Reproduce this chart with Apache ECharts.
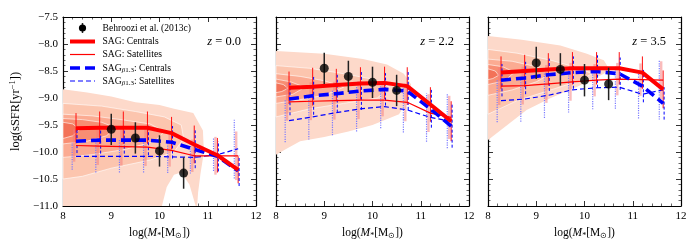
<!DOCTYPE html>
<html><head><meta charset="utf-8">
<script src="https://cdn.jsdelivr.net/npm/echarts@6/dist/echarts.min.js"></script>
<style>html,body{margin:0;padding:0;background:#fff}#c{width:697px;height:250px}</style>
</head><body><div id="c"></div>
<script>
// ---------- DATA ----------
const binX = [8.27, 8.76, 9.25, 9.75, 10.25, 10.72, 11.2, 11.63];
const obsX = [9.0, 9.5, 10.0, 10.5];
const panelLabels = ['0.0', '2.2', '3.5'];
const xTicks = [8, 9, 10, 11, 12];
const yTicks = [-11.0, -10.5, -10.0, -9.5, -9.0, -8.5, -8.0, -7.5];

// z = 0.0
const z0Obs = [-9.58, -9.74, -9.98, -10.39];
const z0ObsErr = [0.29, 0.29, 0.29, 0.29];
const z0SagCen = [-9.56, -9.55, -9.55, -9.55, -9.65, -9.86, -10.06, -10.33];
const z0SagCenErr = [0.28, 0.3, 0.3, 0.3, 0.3, 0.35, 0.32, 0.25];
const z0SagSat = [-9.88, -9.89, -9.9, -9.91, -9.97, -10.07, -10.07, -10.07];
const z0SagSatErr = [0.3, 0.35, 0.35, 0.35, 0.3, 0.3, 0.35, 0.45];
const z0BetaCen = [-9.8, -9.78, -9.78, -9.78, -9.82, -9.95, -10.08, -10.35];
const z0BetaCenErr = [0.22, 0.25, 0.25, 0.28, 0.3, 0.35, 0.28, 0.28];
const z0BetaSat = [-10.08, -10.08, -10.08, -10.08, -10.09, -10.1, -10.05, -9.94];
const z0BetaSatErr = [0.25, 0.3, 0.3, 0.3, 0.3, 0.3, 0.3, 0.55];
const z0Contours = [
  [[8,-8.84],[8.5,-8.9],[9,-8.97],[9.5,-9.08],[10,-9.13],[10.3,-9.2],[10.7,-9.28],[10.9,-9.6],[10.92,-10.0],[10.85,-10.4],[10.8,-10.75],[10.78,-11.0],[10.75,-11.0],[10.62,-10.6],[10.45,-10.38],[10.3,-10.42],[10.15,-10.65],[10.05,-11.0],[8,-11.0]],
  [[8,-9.1],[8.8,-9.15],[9.5,-9.25],[10.1,-9.35],[10.45,-9.5],[10.5,-9.75],[10.3,-10.0],[9.8,-10.15],[9.0,-10.3],[8.4,-10.45],[8,-10.5]],
  [[8,-9.3],[8.6,-9.33],[9.2,-9.4],[9.8,-9.48],[10.1,-9.62],[9.9,-9.8],[9.3,-9.95],[8.6,-10.05],[8,-10.1]],
  [[8,-9.38],[8.4,-9.4],[8.8,-9.45],[9.1,-9.55],[8.9,-9.7],[8.5,-9.8],[8,-9.85]],
  [[8,-9.45],[8.2,-9.48],[8.35,-9.58],[8.2,-9.7],[8,-9.75]]
];

// z = 2.2
const z2Obs = [-8.45, -8.6, -8.71, -8.86];
const z2ObsErr = [0.29, 0.29, 0.29, 0.29];
const z2SagCen = [-8.81, -8.79, -8.76, -8.73, -8.72, -8.78, -9.12, -9.43];
const z2SagCenErr = [0.3, 0.35, 0.3, 0.3, 0.3, 0.35, 0.32, 0.37];
const z2SagSat = [-9.07, -9.06, -9.05, -9.04, -9.04, -9.08, -9.28, -9.36];
const z2SagSatErr = [0.35, 0.35, 0.35, 0.35, 0.3, 0.35, 0.35, 0.4];
const z2BetaCen = [-9.02, -8.96, -8.92, -8.87, -8.84, -8.87, -9.2, -9.52];
const z2BetaCenErr = [0.3, 0.35, 0.35, 0.35, 0.3, 0.35, 0.35, 0.4];
const z2BetaSat = [-9.42, -9.35, -9.27, -9.2, -9.16, -9.22, -9.36, -9.43];
const z2BetaSatErr = [0.4, 0.42, 0.42, 0.42, 0.4, 0.42, 0.45, 0.5];
const z2Contours = [
  [[8,-8.13],[9,-8.18],[9.8,-8.28],[10.3,-8.38],[10.65,-8.55],[10.8,-8.75],[10.75,-9.0],[10.55,-9.3],[10.0,-9.5],[9.5,-9.62],[9.0,-9.72],[8.5,-9.8],[8.2,-9.95],[8,-10.05]],
  [[8,-8.4],[8.7,-8.45],[9.4,-8.55],[10,-8.65],[10.35,-8.8],[10.1,-9.0],[9.4,-9.1],[8.7,-9.2],[8,-9.35]],
  [[8,-8.55],[8.5,-8.6],[9.0,-8.68],[9.4,-8.8],[9.0,-8.95],[8.5,-9.03],[8,-9.1]],
  [[8,-8.65],[8.3,-8.7],[8.6,-8.8],[8.35,-8.93],[8,-8.98]],
  [[8,-8.72],[8.15,-8.75],[8.25,-8.82],[8.12,-8.88],[8,-8.9]]
];

// z = 3.5
const z3Obs = [-8.35, -8.47, -8.67, -8.74];
const z3ObsErr = [0.3, 0.3, 0.3, 0.3];
const z3SagCen = [-8.53, -8.5, -8.47, -8.45, -8.45, -8.45, -8.53, -8.84];
const z3SagCenErr = [0.3, 0.3, 0.3, 0.3, 0.3, 0.3, 0.3, 0.35];
const z3SagSat = [-8.78, -8.77, -8.74, -8.7, -8.67, -8.65, -8.66, -8.67];
const z3SagSatErr = [0.35, 0.35, 0.35, 0.35, 0.3, 0.3, 0.3, 0.35];
const z3BetaCen = [-8.67, -8.63, -8.57, -8.53, -8.51, -8.55, -8.78, -9.1];
const z3BetaCenErr = [0.3, 0.3, 0.3, 0.3, 0.3, 0.3, 0.3, 0.3];
const z3BetaSat = [-9.05, -9.02, -8.95, -8.85, -8.81, -8.8, -8.93, -8.85];
const z3BetaSatErr = [0.4, 0.42, 0.42, 0.42, 0.4, 0.4, 0.45, 0.55];
const z3Contours = [
  [[8,-7.85],[8.7,-7.92],[9.5,-8.03],[10.05,-8.18],[10.4,-8.3],[10.5,-8.45],[10.4,-8.55],[9.85,-8.79],[9.3,-9.0],[8.8,-9.22],[8.4,-9.5],[8,-9.78]],
  [[8,-8.1],[8.6,-8.17],[9.3,-8.3],[9.9,-8.45],[10.15,-8.55],[9.9,-8.68],[9.3,-8.85],[8.6,-9.05],[8,-9.3]],
  [[8,-8.28],[8.5,-8.32],[9.0,-8.42],[9.3,-8.55],[9.0,-8.7],[8.5,-8.85],[8,-8.95]],
  [[8,-8.38],[8.3,-8.42],[8.55,-8.52],[8.35,-8.68],[8,-8.75]],
  [[8,-8.46],[8.15,-8.5],[8.22,-8.58],[8.1,-8.64],[8,-8.66]]
];

const seriesNames = ['Behroozi et al. (2013c)', 'SAG: Centrals', 'SAG: Satellites', 'SAGβ1.3: Centrals', 'SAGβ1.3: Satellites'];

// ---------- BUILD ----------
const panels = [
  {obs: z0Obs, obsErr: z0ObsErr, cen: z0SagCen, cenE: z0SagCenErr, sat: z0SagSat, satE: z0SagSatErr, bcen: z0BetaCen, bcenE: z0BetaCenErr, bsat: z0BetaSat, bsatE: z0BetaSatErr, cont: z0Contours},
  {obs: z2Obs, obsErr: z2ObsErr, cen: z2SagCen, cenE: z2SagCenErr, sat: z2SagSat, satE: z2SagSatErr, bcen: z2BetaCen, bcenE: z2BetaCenErr, bsat: z2BetaSat, bsatE: z2BetaSatErr, cont: z2Contours},
  {obs: z3Obs, obsErr: z3ObsErr, cen: z3SagCen, cenE: z3SagCenErr, sat: z3SagSat, satE: z3SagSatErr, bcen: z3BetaCen, bcenE: z3BetaCenErr, bsat: z3BetaSat, bsatE: z3BetaSatErr, cont: z3Contours}
];

const SERIF = 'Liberation Serif';
const levelColors = ['#fdd9ca', '#fcc5ae', '#fbab92', '#f88e73', '#f37258'];
const gridLefts = [63, 276, 488];
const gridW = 193, gridTop = 17, gridH = 189;

const fmtNum = v => (v < 0 ? '\u2212' : '') + Math.abs(v).toFixed(1);

const grids = [], xAxes = [], yAxes = [], series = [], graphics = [];

function errBarSeries(i, xs, vals, errs, off, style, z) {
  return {
    type: 'custom', xAxisIndex: 2 * i, yAxisIndex: 2 * i, silent: true, z: z,
    data: xs.map((x, k) => [x + off, vals[k] - errs[k], vals[k] + errs[k]]),
    encode: {x: 0, y: [1, 2]},
    renderItem: (params, api) => {
      const p1 = api.coord([api.value(0), api.value(1)]);
      const p2 = api.coord([api.value(0), api.value(2)]);
      return {type: 'line', shape: {x1: p1[0], y1: p1[1], x2: p2[0], y2: p2[1]}, style: Object.assign({fill: null}, style)};
    }
  };
}

const lineStyles = {
  cen: {color: '#ff0000', width: 4, type: 'solid'},
  sat: {color: '#ff0000', width: 1.2, type: 'solid'},
  bcen: {color: '#0000ff', width: 3.6, type: [10, 5]},
  bsat: {color: '#0000ff', width: 1.2, type: [5, 3]}
};

panels.forEach((P, i) => {
  grids.push({left: gridLefts[i], top: gridTop, width: gridW, height: gridH, containLabel: false});
  const tickCommon = {inside: true, length: 5, lineStyle: {color: '#000', width: 0.8}};
  const minorCommon = {show: true, length: 2.5, lineStyle: {color: '#000', width: 0.6}};
  const lineCommon = {show: true, lineStyle: {color: '#000', width: 1.2}};
  xAxes.push({
    gridIndex: i, type: 'value', min: 8, max: 12, interval: 1, position: 'bottom',
    axisLine: lineCommon, axisTick: tickCommon, minorTick: Object.assign({splitNumber: 5}, minorCommon),
    splitLine: {show: false}, minorSplitLine: {show: false},
    axisLabel: {fontFamily: SERIF, fontSize: 11, color: '#000', margin: 5, formatter: v => xTicks.includes(v) ? String(v) : ''},
    name: '{n|log(}{it|M}{sub|*}{n|[M}{sub|\u2299}{n|])}', nameLocation: 'middle', nameGap: 19,
    nameTextStyle: {fontFamily: SERIF, rich: {
      n: {fontFamily: SERIF, fontSize: 11.5, color: '#000'},
      it: {fontFamily: SERIF, fontSize: 11.5, fontStyle: 'italic', color: '#000'},
      sub: {fontFamily: SERIF, fontSize: 8, color: '#000', padding: [6, 0, 0, 0]}
    }}
  });
  xAxes.push({
    gridIndex: i, type: 'value', min: 8, max: 12, interval: 1, position: 'top',
    axisLine: lineCommon, axisTick: tickCommon, minorTick: Object.assign({splitNumber: 5}, minorCommon),
    splitLine: {show: false}, axisLabel: {show: false}
  });
  yAxes.push({
    gridIndex: i, type: 'value', min: -11, max: -7.5, interval: 0.5, position: 'left',
    axisLine: lineCommon, axisTick: tickCommon, minorTick: Object.assign({splitNumber: 5}, minorCommon),
    splitLine: {show: false},
    axisLabel: {show: i === 0, fontFamily: SERIF, fontSize: 11, color: '#000', margin: 5,
      formatter: v => yTicks.some(t => Math.abs(t - v) < 1e-6) ? fmtNum(v) : ''},
    name: i === 0 ? '{n|log(sSFR[yr}{sup|\u22121}{n|])}' : '', nameLocation: 'middle', nameGap: 40, nameRotate: 90,
    nameTextStyle: {fontFamily: SERIF, rich: {
      n: {fontFamily: SERIF, fontSize: 12.5, color: '#000'},
      sup: {fontFamily: SERIF, fontSize: 8.5, color: '#000', padding: [0, 0, 6, 0]}
    }}
  });
  yAxes.push({
    gridIndex: i, type: 'value', min: -11, max: -7.5, interval: 0.5, position: 'right',
    axisLine: lineCommon, axisTick: tickCommon, minorTick: Object.assign({splitNumber: 5}, minorCommon),
    splitLine: {show: false}, axisLabel: {show: false}
  });

  // contours
  series.push({
    type: 'custom', xAxisIndex: 2 * i, yAxisIndex: 2 * i, silent: true, z: 1,
    data: P.cont.map((c, k) => [9, -9, k]), encode: {x: 0, y: 1},
    renderItem: (params, api) => {
      const k = params.dataIndex;
      const pts = P.cont[k].map(p => api.coord(p));
      return {type: 'polygon', shape: {points: pts},
        style: {fill: levelColors[k], stroke: k > 0 ? '#ffffff' : null, lineWidth: 0.6}};
    }
  });

  // model error bars
  series.push(errBarSeries(i, binX, P.bsat, P.bsatE, -0.08, {stroke: '#7a7aff', lineWidth: 1.2, lineDash: [1.2, 1.2]}, 3));
  series.push(errBarSeries(i, binX, P.sat, P.satE, -0.04, {stroke: 'rgba(245,120,120,0.5)', lineWidth: 2.4}, 3));
  series.push(errBarSeries(i, binX, P.cen, P.cenE, 0.0, {stroke: '#ff1010', lineWidth: 1}, 4));
  series.push(errBarSeries(i, binX, P.bcen, P.bcenE, 0.02, {stroke: '#0000ff', lineWidth: 1, lineDash: [3, 2]}, 4));

  const mkLine = (name, vals, st, z) => ({
    name: name, type: 'line', xAxisIndex: 2 * i, yAxisIndex: 2 * i, silent: true, z: z,
    data: binX.map((x, k) => [x, vals[k]]), symbol: 'none', showSymbol: false,
    lineStyle: {color: st.color, width: st.width, type: st.type}, itemStyle: {color: st.color}
  });
  series.push(mkLine(seriesNames[4], P.bsat, lineStyles.bsat, 5));
  series.push(mkLine(seriesNames[2], P.sat, lineStyles.sat, 5));
  series.push(mkLine(seriesNames[3], P.bcen, lineStyles.bcen, 6));
  series.push(mkLine(seriesNames[1], P.cen, lineStyles.cen, 7));

  // observations
  series.push(errBarSeries(i, obsX, P.obs, P.obsErr, 0, {stroke: '#222222', lineWidth: 1.5}, 8));
  series.push({
    name: seriesNames[0], type: 'scatter', xAxisIndex: 2 * i, yAxisIndex: 2 * i, silent: true, z: 9,
    data: obsX.map((x, k) => [x, P.obs[k]]), symbol: 'circle', symbolSize: 9,
    itemStyle: {color: '#000000'}
  });

  graphics.push({
    type: 'text', right: 697 - (gridLefts[i] + gridW - 15), top: 35, z: 100,
    style: {text: '{i|z} = ' + panelLabels[i], fill: '#000',
      rich: {i: {fontFamily: SERIF, fontStyle: 'italic', fontSize: 12.5, fill: '#000'}},
      fontFamily: SERIF, fontSize: 12.5}
  });
});

// ---------- LEGEND (drawn as graphic items inside first panel) ----------
const legRows = [28, 41.5, 54.5, 68, 81];
const legX0 = 70, legX1 = 95, legTextX = 102.5;
const legKeys = [null, 'cen', 'sat', 'bcen', 'bsat'];
const legChildren = [];
legRows.forEach((y, k) => {
  if (k === 0) {
    legChildren.push({type: 'line', shape: {x1: 82.5, y1: y - 5, x2: 82.5, y2: y + 5}, style: {stroke: '#222', lineWidth: 1.5}});
    legChildren.push({type: 'circle', shape: {cx: 82.5, cy: y, r: 3.6}, style: {fill: '#000'}});
  } else {
    const st = lineStyles[legKeys[k]];
    legChildren.push({type: 'line', shape: {x1: legX0, y1: y, x2: legX1, y2: y},
      style: {stroke: st.color, lineWidth: st.width, lineDash: st.type === 'solid' ? null : st.type}});
  }
  const name = seriesNames[k];
  let txt;
  if (name.indexOf('β1.3') >= 0) {
    txt = '{n|SAG}{b|β}{s|1.3}{n|' + name.split('β1.3')[1] + '}';
  } else {
    txt = '{n|' + name + '}';
  }
  legChildren.push({type: 'text', x: legTextX, y: y, style: {text: txt, verticalAlign: 'middle', textVerticalAlign: 'middle',
    fontFamily: SERIF, fontSize: 9.6, fill: '#000',
    rich: {
      n: {fontFamily: SERIF, fontSize: 9.6, fill: '#000'},
      b: {fontFamily: SERIF, fontSize: 7, fontStyle: 'italic', fill: '#000', padding: [5, 0, 0, 0]},
      s: {fontFamily: SERIF, fontSize: 7, fill: '#000', padding: [5, 0, 0, 0]}
    }}});
});
graphics.push({type: 'group', z: 100, children: legChildren});

const chart = echarts.init(document.getElementById('c'), null, {renderer: 'canvas', width: 697, height: 250});
chart.setOption({
  animation: false,
  backgroundColor: '#ffffff',
  textStyle: {fontFamily: SERIF},
  grid: grids, xAxis: xAxes, yAxis: yAxes, series: series, graphic: graphics
});
</script>
</body></html>
